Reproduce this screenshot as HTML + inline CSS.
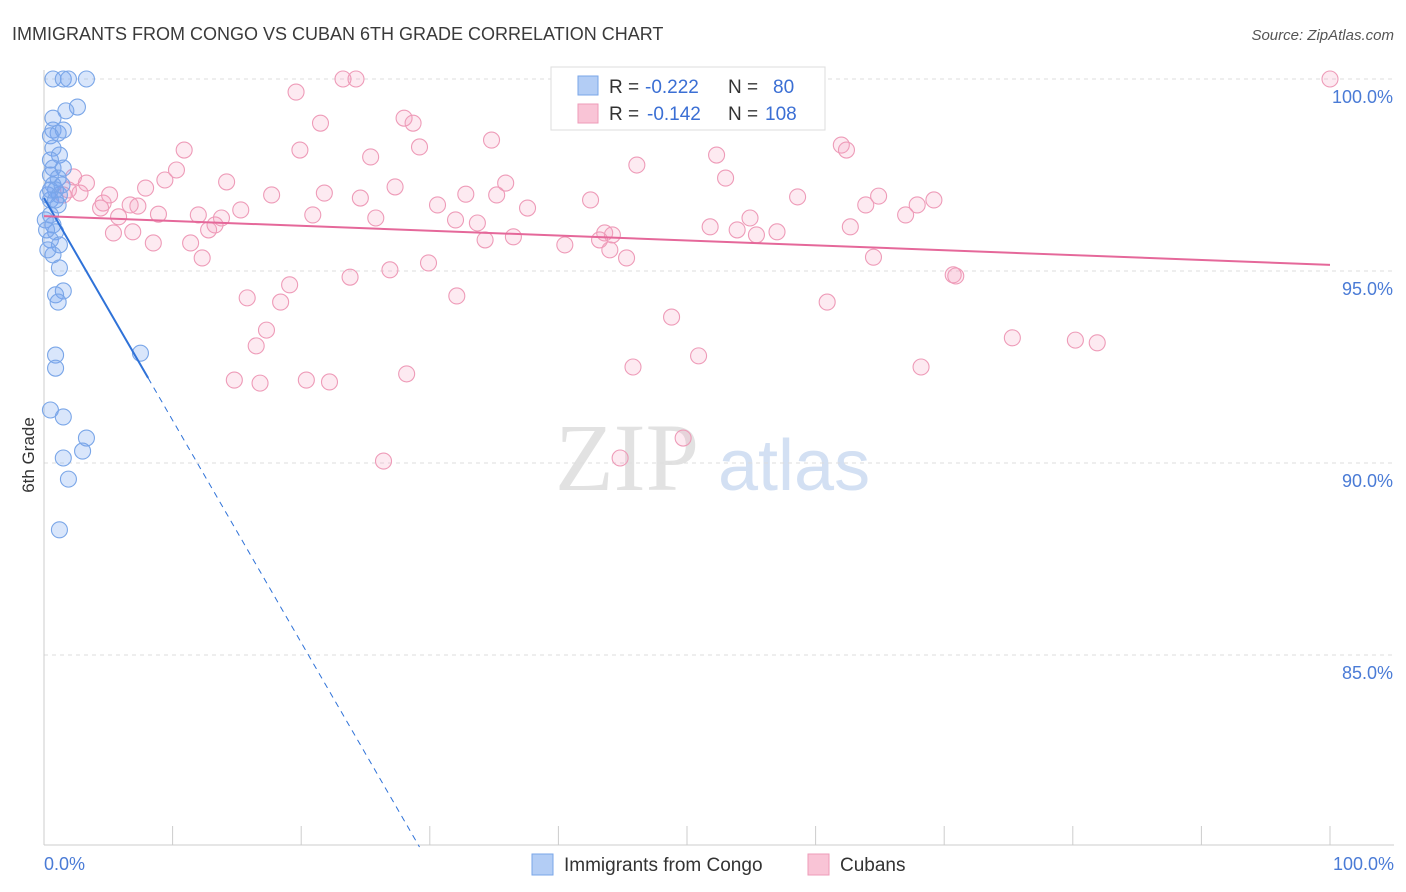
<!DOCTYPE html>
<html><head><meta charset="utf-8">
<style>
body{margin:0;background:#fff;font-family:"Liberation Sans",sans-serif;}
svg{display:block}
</style></head><body>
<svg id="chart" width="1406" height="892" viewBox="0 0 1406 892" xmlns="http://www.w3.org/2000/svg">
<text x="12" y="40" font-size="18" fill="#3a3a3a">IMMIGRANTS FROM CONGO VS CUBAN 6TH GRADE CORRELATION CHART</text>
<text x="1394" y="40" font-size="15" fill="#555" font-style="italic" text-anchor="end">Source: ZipAtlas.com</text>
<g>
<text x="555" y="490" font-size="96" font-family="Liberation Serif,serif" fill="#e2e2e2">ZIP</text>
<text x="718" y="490" font-size="72" fill="#d3e0f3">atlas</text>
</g>
<g id="grid"></g>
<g id="axes"></g>
<g id="marks"></g>
<text transform="translate(34,455) rotate(-90)" font-size="17" fill="#333" text-anchor="middle">6th Grade</text>
<g font-size="19">
<rect x="551" y="67" width="274" height="63" fill="#fff" stroke="#ddd"/>
<rect x="578" y="76" width="20" height="19" fill="#b3cdf5" stroke="#7aa6e8"/>
<text x="609" y="93" fill="#333">R =</text>
<text x="645" y="93" fill="#3b6fd4">-0.222</text>
<text x="728" y="93" fill="#333">N =</text>
<text x="773" y="93" fill="#3b6fd4">80</text>
<rect x="578" y="104" width="20" height="19" fill="#f9c4d6" stroke="#ee9bb8"/>
<text x="609" y="120" fill="#333">R =</text>
<text x="647" y="120" fill="#3b6fd4">-0.142</text>
<text x="728" y="120" fill="#333">N =</text>
<text x="765" y="120" fill="#3b6fd4">108</text>
</g>
<g>
<rect x="532" y="854" width="21" height="21" fill="#b3cdf5" stroke="#7aa6e8"/>
<text x="564" y="871" font-size="19" fill="#333">Immigrants from Congo</text>
<rect x="808" y="854" width="21" height="21" fill="#f9c4d6" stroke="#ee9bb8"/>
<text x="840" y="871" font-size="19" fill="#333">Cubans</text>
</g>
</svg>
<script>
const yTicks=[100,95,90,85];
const yTickLabels=["100.0%","95.0%","90.0%","85.0%"];
const xTicks=[0,10,20,30,40,50,60,70,80,90,100];
const xTickLabels=["0.0%","100.0%"];
const congoX=[0.7,1.5,1.9,3.3,2.6,1.7,0.7,0.7,1.1,1.5,0.5,0.7,1.2,0.5,0.7,1.5,0.5,1.1,0.7,0.9,1.2,0.5,1.1,0.5,0.7,0.9,0.5,1.2,0.7,1.2,1.5,0.9,1.1,0.9,0.9,7.5,0.5,1.5,3.3,1.5,3.0,1.9,1.2,0.3,0.5,0.1,0.2,0.9,1.4,0.3];
const congoY=[100,100,100,100,99.27,99.17,98.98,98.67,98.59,98.67,98.52,98.2,98.02,97.89,97.68,97.68,97.5,97.42,97.24,97.11,96.98,96.85,96.72,96.46,96.2,96.02,95.81,95.68,95.42,95.08,94.48,94.38,94.19,92.81,92.47,92.86,91.38,91.2,90.65,90.13,90.31,89.58,88.26,96.98,97.11,96.33,96.07,96.85,97.24,95.55];
const cubanX=[100,23.25,24.26,19.6,28.0,28.7,21.5,34.8,10.9,19.9,29.2,25.4,46.1,52.3,62.0,62.4,10.3,9.4,14.2,27.3,35.9,53.0,2.3,3.3,2.8,1.9,7.9,17.7,21.8,32.8,35.2,42.5,58.6,64.9,69.2,67.9,63.9,67.0,4.6,4.4,7.3,5.8,8.9,12.0,13.8,15.3,20.9,24.6,25.8,30.6,32.0,33.7,37.6,54.9,51.8,53.9,55.4,57.0,62.7,5.4,6.9,12.8,13.3,43.6,44.2,8.5,11.4,34.3,36.5,40.5,43.2,44.0,45.3,12.3,64.5,26.9,29.9,23.8,70.7,70.9,19.1,15.8,18.4,32.1,60.9,48.8,17.3,16.5,75.3,80.2,81.9,50.9,45.8,68.2,14.8,16.8,20.4,22.2,28.2,49.7,44.8,26.4,5.1,6.7,1.5];
const cubanY=[100,100,100,99.66,98.98,98.85,98.85,98.41,98.15,98.15,98.23,97.97,97.76,98.02,98.28,98.15,97.63,97.37,97.32,97.19,97.29,97.42,97.45,97.29,97.03,97.11,97.16,96.98,97.03,97.0,96.98,96.85,96.93,96.95,96.85,96.72,96.72,96.46,96.77,96.64,96.69,96.41,96.48,96.46,96.38,96.59,96.46,96.9,96.38,96.72,96.33,96.25,96.64,96.38,96.15,96.07,95.94,96.02,96.15,95.99,96.02,96.07,96.2,95.99,95.94,95.73,95.73,95.81,95.89,95.68,95.81,95.55,95.34,95.34,95.36,95.03,95.21,94.84,94.9,94.87,94.64,94.3,94.19,94.35,94.19,93.8,93.46,93.05,93.26,93.2,93.13,92.79,92.5,92.5,92.16,92.08,92.16,92.11,92.32,90.65,90.13,90.05,96.98,96.72,96.98];
const congoTrend=[0,96.9,29.2,80.0,8.1];
const cubanTrend=[0,96.43,100,95.16];
const X0=44,X1=1330,YV0=100,YP0=79,PXPER=38.4;
const xs=v=>X0+(X1-X0)*v/100;
const ys=v=>YP0+(YV0-v)*PXPER;
const NS="http://www.w3.org/2000/svg";
function mk(tag,attrs,parent){const e=document.createElementNS(NS,tag);for(const k in attrs)e.setAttribute(k,attrs[k]);parent.appendChild(e);return e;}
const grid=document.getElementById('grid'),axes=document.getElementById('axes'),marks=document.getElementById('marks');
yTicks.forEach((t,i)=>{
  const l=mk('line',{x1:X0,x2:1394,y1:ys(t),y2:ys(t),stroke:'#ddd','stroke-dasharray':'4,4'},grid);
  
  
  const tx=mk('text',{x:1393,y:ys(t)+24,'font-size':18,fill:'#4a7bd6','text-anchor':'end'},axes);
  tx.textContent=yTickLabels[i];
  
  
});
const ax=mk('line',{x1:X0,x2:1394,y1:845,y2:845,stroke:'#ccc'},axes);


const ay=mk('line',{x1:X0,x2:X0,y1:70,y2:845,stroke:'#ccc'},axes);


xTicks.forEach(t=>{
  const l=mk('line',{x1:xs(t),x2:xs(t),y1:826,y2:845,stroke:'#ccc'},axes);
  
  
});
const xl0=mk('text',{x:44,y:870,'font-size':18,fill:'#4a7bd6'},axes);xl0.textContent=xTickLabels[0];


const xl1=mk('text',{x:1394,y:870,'font-size':18,fill:'#4a7bd6','text-anchor':'end'},axes);xl1.textContent=xTickLabels[1];


cubanX.forEach((x,i)=>{
  const c=mk('circle',{cx:xs(x),cy:ys(cubanY[i]),r:8,fill:'rgba(244,160,192,0.22)',stroke:'#ee9bb8','stroke-width':1.1},marks);
  
  
});
congoX.forEach((x,i)=>{
  const c=mk('circle',{cx:xs(x),cy:ys(congoY[i]),r:8,fill:'rgba(120,165,240,0.28)',stroke:'#7aa6e8','stroke-width':1.1},marks);
  
  
});
const slope=(congoTrend[3]-congoTrend[1])/(congoTrend[2]-congoTrend[0]);
const ySolidEnd=congoTrend[1]+slope*congoTrend[4];
const t1=mk('line',{x1:xs(congoTrend[0]),y1:ys(congoTrend[1]),x2:xs(congoTrend[4]),y2:ys(ySolidEnd),stroke:'#2f72d8','stroke-width':2},marks);


const t2=mk('line',{x1:xs(congoTrend[4]),y1:ys(ySolidEnd),x2:xs(congoTrend[2]),y2:ys(congoTrend[3]),stroke:'#2f72d8','stroke-width':1,'stroke-dasharray':'6,5'},marks);


const t3=mk('line',{x1:xs(cubanTrend[0]),y1:ys(cubanTrend[1]),x2:xs(cubanTrend[2]),y2:ys(cubanTrend[3]),stroke:'#e5689a','stroke-width':2},marks);


</script>
</body></html>
